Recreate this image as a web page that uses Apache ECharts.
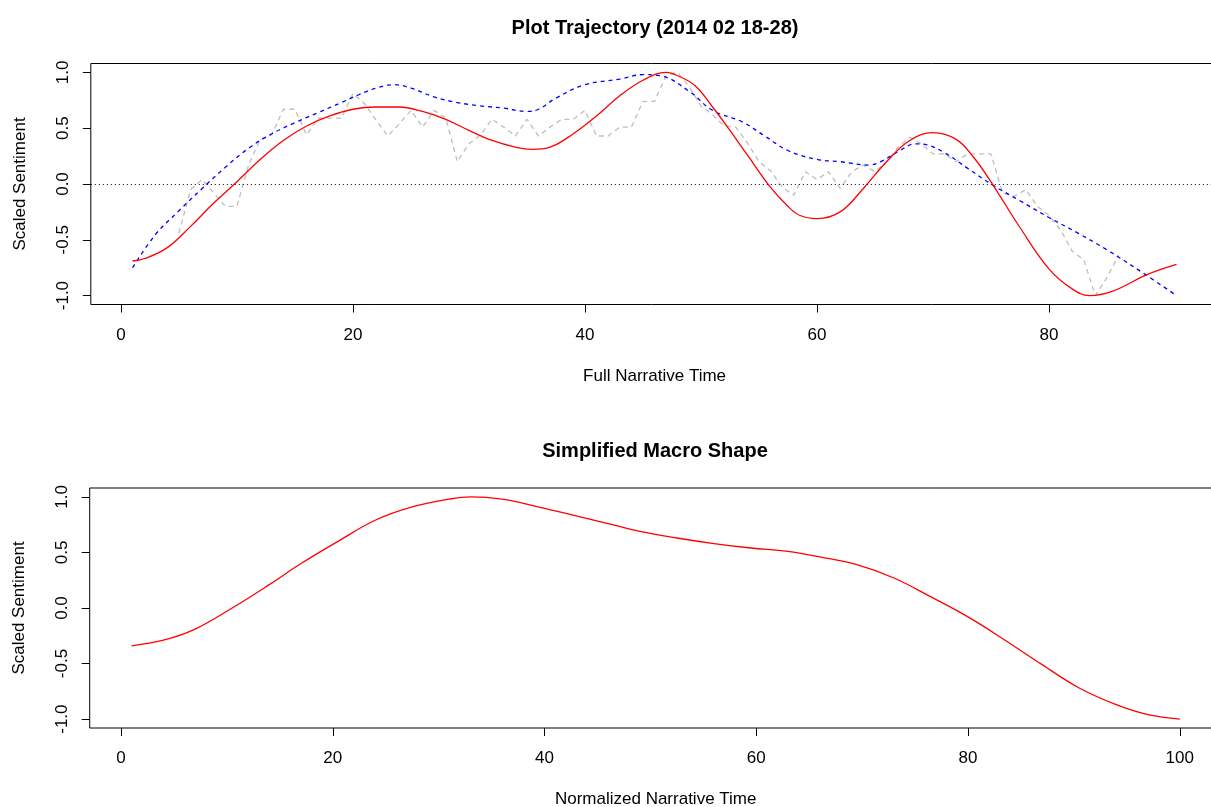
<!DOCTYPE html>
<html>
<head>
<meta charset="utf-8">
<script src="https://cdn.jsdelivr.net/npm/echarts@6/dist/echarts.min.js"></script>
<style>
html,body{margin:0;padding:0;background:#fff;}
#chart{width:1211px;height:807px;}
</style>
</head>
<body>
<div id="chart"></div>
<script>
// ---- Data ----
const topTitle = 'Plot Trajectory (2014 02 18-28)';
const bottomTitle = 'Simplified Macro Shape';
const topXTicks = [0, 20, 40, 60, 80];
const bottomXTicks = [0, 20, 40, 60, 80, 100];
const yTicks = [-1, -0.5, 0, 0.5, 1];

// rolling mean of raw sentiment (gray dashed), x = 5..86
const grayX = [5,6,7,8,9,10,11,12,13,14,15,16,17,18,19,20,21,22,23,24,25,26,27,28,29,30,31,32,33,34,35,36,37,38,39,40,41,42,43,44,45,46,47,48,49,50,51,52,53,54,55,56,57,58,59,60,61,62,63,64,65,66,67,68,69,70,71,72,73,74,75,76,77,78,79,80,81,82,83,84,85,86];
const grayY = [-0.44,-0.05,0.04,-0.08,-0.2,-0.2,0.17,0.40,0.44,0.67,0.67,0.44,0.59,0.59,0.59,0.81,0.72,0.57,0.43,0.54,0.66,0.51,0.66,0.59,0.2,0.36,0.44,0.58,0.51,0.43,0.58,0.43,0.51,0.58,0.58,0.66,0.43,0.43,0.51,0.51,0.74,0.74,0.97,1.0,0.87,0.70,0.62,0.52,0.51,0.37,0.2,0.12,-0.03,-0.1,0.11,0.04,0.11,-0.04,0.11,0.17,0.11,0.2,0.33,0.42,0.36,0.27,0.27,0.2,0.27,0.27,0.27,-0.08,-0.11,-0.05,-0.2,-0.28,-0.41,-0.6,-0.68,-1.0,-0.84,-0.64];

// loess smooth (blue dashed)
const blueX = [1,3,5,7,9,11,13,15,17,19,20.5,22,23.5,25,27,29,31,33,35,36,37.5,40,43,45,46.5,49,51,53.5,55.5,57.5,60,62,64.5,65.5,67,68.5,69.5,71,73,75,77.5,80,82.5,85,88,91];
const blueY = [-0.75,-0.45,-0.24,-0.04,0.15,0.32,0.45,0.55,0.64,0.73,0.8,0.86,0.89,0.86,0.78,0.73,0.70,0.68,0.65,0.67,0.77,0.89,0.94,0.98,0.97,0.83,0.66,0.56,0.43,0.3,0.22,0.20,0.17,0.2,0.29,0.36,0.35,0.28,0.14,0.0,-0.15,-0.3,-0.44,-0.59,-0.79,-1.0];

// DCT smooth (red)
const redX = [1,2,4,6,8,10,12,14,16,18,20,22,24,26,28,30,32,34,35.5,37,39,41,43,45,47,48,49.5,51,52.5,54,56,57.5,58.5,60,62,64,66,68,70,72,73.5,75,77.5,80,82,83.5,85.5,88.5,91];
const redY = [-0.69,-0.67,-0.57,-0.38,-0.17,0.02,0.22,0.39,0.52,0.61,0.67,0.69,0.69,0.65,0.58,0.48,0.39,0.33,0.31,0.33,0.45,0.61,0.79,0.93,1.0,0.97,0.88,0.69,0.48,0.26,-0.03,-0.2,-0.28,-0.31,-0.25,-0.04,0.2,0.39,0.46,0.40,0.24,0.02,-0.39,-0.76,-0.94,-1.0,-0.96,-0.81,-0.72];

// simplified macro shape (red, bottom)
const macroX = [1,4,7,10.5,14,17,20.5,24,27.5,31,33,36,39,42.5,46,49,52.5,56,59.5,63,66,69.5,73,76.5,80,83.5,87,90.5,94,97,100];
const macroY = [-0.34,-0.29,-0.19,0.0,0.21,0.40,0.60,0.79,0.91,0.98,1.0,0.98,0.92,0.84,0.76,0.69,0.63,0.58,0.54,0.51,0.46,0.39,0.27,0.10,-0.08,-0.29,-0.51,-0.72,-0.87,-0.96,-1.0];

const zip = (xs, ys) => xs.map((x, i) => [x, ys[i]]);

const FONT = '"Liberation Sans", Arial, Helvetica, sans-serif';
const FS = 17;

function xAxisCfg(gridIndex, min, max, ticks, name) {
  return {
    type: 'value', gridIndex, min, max, position: 'bottom',
    name, nameLocation: 'middle', nameGap: 63,
    nameTextStyle: {fontFamily: FONT, fontSize: FS, color: '#000'},
    axisLine: {show: false, onZero: false},
    splitLine: {show: false},
    axisTick: {show: true, inside: false, customValues: ticks, length: 8, lineStyle: {color: '#000', width: 1}},
    axisLabel: {show: true, customValues: ticks, margin: 22, fontFamily: FONT, fontSize: FS, color: '#000'}
  };
}
function yAxisCfg(gridIndex) {
  return {
    type: 'value', gridIndex, min: -1.08, max: 1.08, position: 'left',
    name: 'Scaled Sentiment', nameLocation: 'middle', nameGap: 62, nameRotate: 90,
    nameTextStyle: {fontFamily: FONT, fontSize: FS, color: '#000'},
    axisLine: {show: false, onZero: false},
    splitLine: {show: false},
    axisTick: {show: true, inside: false, customValues: yTicks, length: 8, lineStyle: {color: '#000', width: 1}},
    axisLabel: {show: true, customValues: yTicks, margin: 19, rotate: 90, fontFamily: FONT, fontSize: FS, color: '#000',
      formatter: v => v.toFixed(1)}
  };
}

const chart = echarts.init(document.getElementById('chart'), null, {renderer: 'canvas'});
chart.setOption({
  animation: false,
  backgroundColor: '#fff',
  title: [
    {text: topTitle, left: 650, top: 13, textAlign: 'center',
     textStyle: {fontFamily: FONT, fontSize: 20, fontWeight: 'bold', color: '#000'}},
    {text: bottomTitle, left: 650, top: 436, textAlign: 'center',
     textStyle: {fontFamily: FONT, fontSize: 20, fontWeight: 'bold', color: '#000'}}
  ],
  grid: [
    {left: 90.8, top: 63.5, width: 1127.5, height: 241, show: true, borderColor: '#000', borderWidth: 1,
     backgroundColor: 'transparent', containLabel: false, outerBoundsMode: 'none'},
    {left: 89.7, top: 488, width: 1132, height: 240, show: true, borderColor: '#000', borderWidth: 1,
     backgroundColor: 'transparent', containLabel: false, outerBoundsMode: 'none'}
  ],
  xAxis: [
    xAxisCfg(0, -2.6, 94.6, topXTicks, 'Full Narrative Time'),
    xAxisCfg(1, -2.96, 103.96, bottomXTicks, 'Normalized Narrative Time')
  ],
  yAxis: [yAxisCfg(0), yAxisCfg(1)],
  series: [
    {type: 'line', xAxisIndex: 0, yAxisIndex: 0, data: zip(grayX, grayY), showSymbol: false, symbol: 'none',
     lineStyle: {color: '#BEBEBE', width: 1.3, type: [5, 4]}, z: 2},
    {type: 'line', xAxisIndex: 0, yAxisIndex: 0, data: zip(blueX, blueY), showSymbol: false, symbol: 'none', smooth: 0.4,
     lineStyle: {color: '#0000FF', width: 1.3, type: [4, 4]}, z: 3},
    {type: 'line', xAxisIndex: 0, yAxisIndex: 0, data: zip(redX, redY), showSymbol: false, symbol: 'none', smooth: 0.4,
     lineStyle: {color: '#FF0000', width: 1.3}, z: 4,
     markLine: {silent: true, symbol: ['none', 'none'], label: {show: false},
       lineStyle: {color: '#000', width: 1, type: [1, 3]}, data: [{yAxis: 0}]}},
    {type: 'line', xAxisIndex: 1, yAxisIndex: 1, data: zip(macroX, macroY), showSymbol: false, symbol: 'none', smooth: 0.4,
     lineStyle: {color: '#FF0000', width: 1.3}, z: 4}
  ]
});
</script>
</body>
</html>
